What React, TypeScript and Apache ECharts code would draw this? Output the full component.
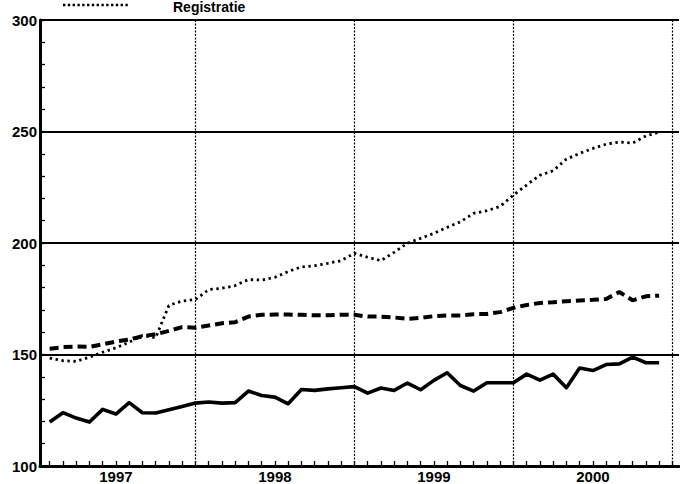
import { useEffect, useRef } from "react";
import * as echarts from "echarts";

// Monthly observations (year-month)
const months = [
  "1997-02", "1997-03", "1997-04", "1997-05", "1997-06", "1997-07", "1997-08", "1997-09", "1997-10", "1997-11", "1997-12",
  "1998-01", "1998-02", "1998-03", "1998-04", "1998-05", "1998-06", "1998-07", "1998-08", "1998-09", "1998-10", "1998-11", "1998-12",
  "1999-01", "1999-02", "1999-03", "1999-04", "1999-05", "1999-06", "1999-07", "1999-08", "1999-09", "1999-10", "1999-11", "1999-12",
  "2000-01", "2000-02", "2000-03", "2000-04", "2000-05", "2000-06", "2000-07", "2000-08", "2000-09", "2000-10", "2000-11", "2000-12",
];

// solid line
const solidValues = [
  119.7, 123.9, 121.5, 119.7, 125.4, 123.3, 128.4, 123.9, 123.8, 125.2, 126.7,
  128.2, 128.7, 128.2, 128.4, 133.6, 131.6, 130.9, 127.9, 134.3, 133.9, 134.6, 135.1,
  135.6, 132.7, 135.0, 133.9, 137.2, 134.2, 138.4, 141.8, 136.1, 133.6, 137.3, 137.3,
  137.3, 141.2, 138.5, 141.2, 135.1, 143.9, 142.8, 145.5, 145.8, 148.8, 146.3, 146.3,
];

// dashed line
const dashedValues = [
  152.6, 153.3, 153.6, 153.4, 154.6, 155.8, 156.7, 158.2, 159.1, 160.6, 162.3,
  162.0, 163.0, 164.0, 164.5, 167.0, 167.8, 167.9, 167.9, 167.8, 167.6, 167.6, 167.8,
  167.8, 167.0, 167.0, 166.6, 166.0, 166.4, 167.2, 167.5, 167.5, 168.1, 168.2, 169.0,
  170.9, 172.2, 173.1, 173.4, 173.9, 174.2, 174.5, 174.9, 178.0, 174.3, 176.1, 176.4,
];

// dotted line: Registratie
const registratieValues = [
  148.4, 147.2, 146.9, 148.8, 151.0, 153.0, 155.5, 158.5, 157.5, 172.0, 174.0,
  174.6, 179.1, 179.7, 180.9, 183.6, 183.4, 184.6, 187.2, 189.3, 189.8, 190.9, 192.1,
  195.4, 193.6, 192.1, 195.8, 199.9, 202.1, 204.3, 207.0, 209.5, 213.3, 214.5, 216.4,
  221.5, 226.0, 230.4, 232.4, 237.6, 240.2, 242.4, 244.3, 245.3, 244.8, 248.0, 249.7,
];

const yearLabels = ["1997", "1998", "1999", "2000"];
const yearBoundaries = ["1998-01", "1999-01", "2000-01", "2001-01"];
const legendLabel = "Registratie";

const BASE_YEAR = 1997;
function monthIndex(s: string): number {
  const [y, m] = s.split("-").map(Number);
  return (y - BASE_YEAR) * 12 + (m - 1);
}

const X_MIN = 0.27;
const X_MAX = 48.5;
const FONT = "'Liberation Sans', Arial, Helvetica, sans-serif";

export default function App() {
  const ref = useRef<HTMLDivElement>(null);

  useEffect(() => {
    if (!ref.current) return;
    const chart = echarts.init(ref.current, undefined, { renderer: "svg" });

    const toPairs = (vals: number[]) => vals.map((v, i) => [monthIndex(months[i]), v]);
    const monthTicks: number[] = [];
    for (let i = Math.ceil(X_MIN); i <= Math.floor(X_MAX); i++) monthTicks.push(i);
    const yearCenters = yearLabels.map((y) => monthIndex(y + "-01") + 6);
    const boundaryTicks = yearBoundaries.map(monthIndex);

    chart.setOption({
      animation: false,
      backgroundColor: "#fff",
      grid: { left: 40, right: 1, top: 20, bottom: 17.5, containLabel: false },
      xAxis: [
        {
          type: "value",
          min: X_MIN,
          max: X_MAX,
          axisLine: { show: true, onZero: false, lineStyle: { color: "#000", width: 3 } },
          axisTick: {
            show: true,
            inside: true,
            length: 5,
            customValues: monthTicks,
            lineStyle: { color: "#000", width: 1.3 },
          },
          axisLabel: {
            show: true,
            customValues: yearCenters,
            formatter: (v: number) => yearLabels[Math.floor(v / 12)] ?? "",
            color: "#000",
            fontWeight: "bold",
            fontSize: 15,
            fontFamily: FONT,
            margin: 3,
          },
          splitLine: { show: false },
        },
        {
          type: "value",
          min: X_MIN,
          max: X_MAX,
          position: "bottom",
          axisLine: { show: false },
          axisTick: { show: false, customValues: boundaryTicks },
          axisLabel: { show: false },
          splitLine: { show: true, lineStyle: { color: "#000", width: 1.2, type: [2, 1.5] } },
        },
      ],
      yAxis: {
        type: "value",
        min: 100,
        max: 300,
        interval: 50,
        axisLine: { show: true, onZero: false, lineStyle: { color: "#000", width: 3 } },
        axisTick: { show: true, inside: true, length: 5, lineStyle: { color: "#000", width: 1.3 } },
        minorTick: { show: true, splitNumber: 5, length: 5, lineStyle: { color: "#000", width: 1.3 } },
        axisLabel: {
          color: "#000",
          fontWeight: "bold",
          fontSize: 15,
          fontFamily: FONT,
          margin: 3,
        },
        splitLine: { show: true, lineStyle: { color: "#000", width: 1.8 } },
      },
      graphic: [
        {
          type: "line",
          shape: { x1: 63, y1: 5, x2: 130, y2: 5 },
          style: { stroke: "#000", lineWidth: 2.6, lineDash: [2.4, 2.4] },
        },
        {
          type: "text",
          x: 173,
          y: 0,
          style: {
            text: legendLabel,
            fill: "#000",
            font: `bold 14px ${FONT}`,
            textVerticalAlign: "top",
          },
        },
      ],
      series: [
        {
          name: "solid",
          type: "line",
          xAxisIndex: 0,
          data: toPairs(solidValues),
          showSymbol: false,
          lineStyle: { color: "#000", width: 3.6, join: "round" },
          z: 3,
        },
        {
          name: "dashed",
          type: "line",
          xAxisIndex: 0,
          data: toPairs(dashedValues),
          showSymbol: false,
          lineStyle: { color: "#000", width: 4, type: [9, 5] },
          z: 3,
        },
        {
          name: legendLabel,
          type: "line",
          xAxisIndex: 0,
          data: toPairs(registratieValues),
          showSymbol: false,
          lineStyle: { color: "#000", width: 2.8, type: [2.4, 3.6] },
          z: 3,
        },
      ],
    });

    return () => chart.dispose();
  }, []);

  return (
    <div
      ref={ref}
      style={{ position: "fixed", left: 0, top: 0, width: 680, height: 484, background: "#fff" }}
    />
  );
}
